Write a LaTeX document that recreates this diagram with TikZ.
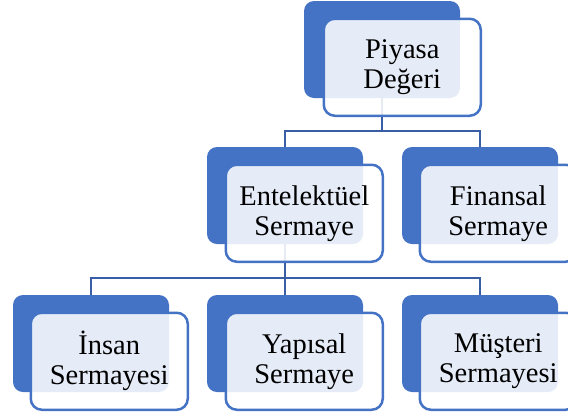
\documentclass[tikz,border=0pt]{standalone}
\usepackage{fontspec}
\setmainfont{Liberation Serif}
\definecolor{accent}{RGB}{68,114,196}
\definecolor{linkblue}{RGB}{58,94,165}
\tikzset{
  backbox/.style={rectangle, rounded corners=10pt, fill=accent,
    minimum width=156pt, minimum height=97pt, inner sep=0pt, outer sep=0pt,
    anchor=north west},
  frontbox/.style={rectangle, rounded corners=11pt, draw=accent, line width=2.5pt,
    fill=white, fill opacity=0.87, text opacity=1,
    minimum width=157pt, minimum height=97pt, inner sep=0pt,
    anchor=north west, align=center, font=\fontsize{28.5}{30}\selectfont},
  link/.style={draw=linkblue, line width=2pt}
}
\begin{document}
\begin{tikzpicture}[x=1pt,y=-1pt]
\useasboundingbox (0,0) rectangle (568,416);
\clip (0,0) rectangle (568,416);

% coloured back plates
\node[backbox] (pb) at (304,1) {};
\node[backbox] (eb) at (207,147) {};
\node[backbox] (fb) at (402,147) {};
\node[backbox] (ib) at (13,295) {};
\node[backbox] (yb) at (207,295) {};
\node[backbox] (mb) at (402,295) {};

% hierarchy connectors
\draw[link] (pb.south) -- ++(0,33) -| (eb.north);
\draw[link] (pb.south) -- ++(0,33) -| (fb.north);
\draw[link] (eb.south) -- ++(0,34) -| (ib.north);
\draw[link] (eb.south) -- ++(0,34) -| (yb.north);
\draw[link] (eb.south) -- ++(0,34) -| (mb.north);

% translucent text cards
\node[frontbox] (p) at (322.5,17.5) {Piyasa\\Değeri};
\node[frontbox] (e) at (224.5,163.5) {Entelektüel\\Sermaye};
\node[frontbox] (f) at (418.5,163.5) {Finansal\\Sermaye};
\node[frontbox] (i) at (29.5,311.5) {İnsan\\Sermayesi};
\node[frontbox] (y) at (224.5,311.5) {Yapısal\\Sermaye};
\node[frontbox] (m) at (418.5,311.5) {Müşteri\\Sermayesi};
\end{tikzpicture}
\end{document}
